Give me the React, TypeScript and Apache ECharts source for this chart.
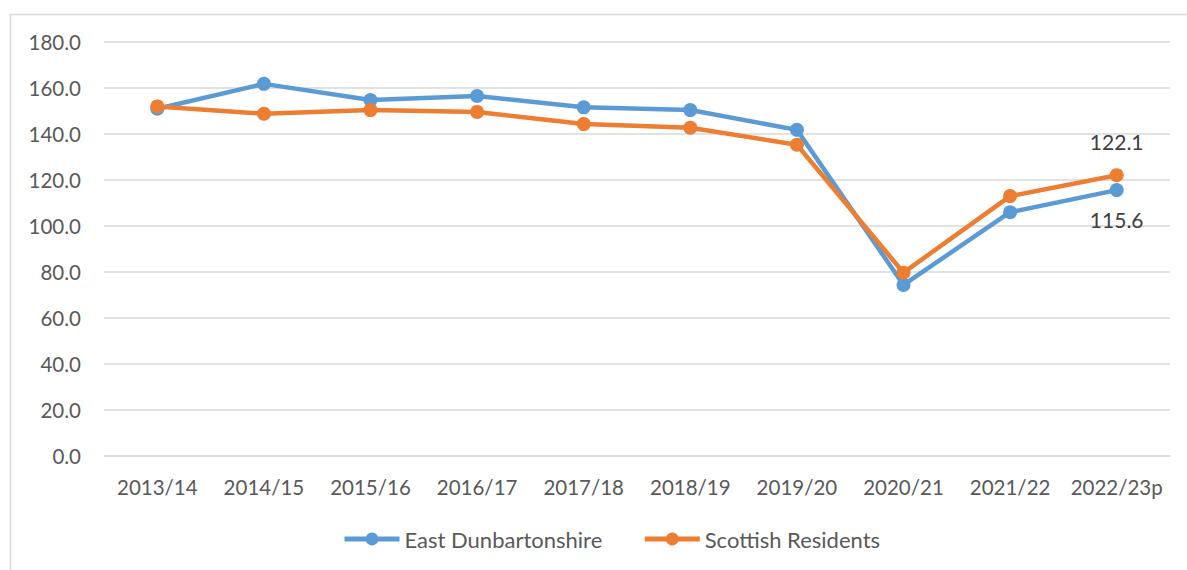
import React, { useEffect, useRef } from "react";
import * as echarts from "echarts";

const categories = ["2013/14", "2014/15", "2015/16", "2016/17", "2017/18", "2018/19", "2019/20", "2020/21", "2021/22", "2022/23p"];
const eastDunbartonshire = [151.0, 161.8, 154.8, 156.5, 151.6, 150.4, 141.8, 74.4, 106.0, 115.6];
const scottishResidents = [152.0, 148.8, 150.4, 149.6, 144.3, 142.7, 135.3, 79.7, 113.0, 122.1];
const yTicks = { min: 0, max: 180, interval: 20 };

const FONT = "Lato, 'Open Sans', sans-serif";

export default function App() {
  const ref = useRef<HTMLDivElement>(null);
  useEffect(() => {
    if (!ref.current) return;
    const chart = echarts.init(ref.current, undefined, { renderer: "svg" });
    const lastIdx = categories.length - 1;
    chart.setOption({
      animation: false,
      backgroundColor: "#ffffff",
      textStyle: { fontFamily: FONT },
      graphic: [
        {
          type: "rect",
          shape: { x: 10.5, y: 14.5, width: 1250, height: 650 },
          style: { fill: "none", stroke: "#d9d9d9", lineWidth: 1.5 },
          silent: true,
          z: -10,
        },
      ],
      grid: { left: 104, right: 17, top: 42, bottom: 114, containLabel: false },
      legend: {
        top: 523,
        left: 337,
        itemWidth: 55,
        itemHeight: 16,
        itemGap: 40,
        lineStyle: { width: 5 },
        textStyle: { color: "#595959", fontSize: 22, fontFamily: FONT },
        data: ["East Dunbartonshire", "Scottish Residents"],
      },
      xAxis: {
        type: "category",
        data: categories,
        boundaryGap: true,
        axisLine: { show: true, lineStyle: { color: "#d9d9d9", width: 1.5 } },
        axisTick: { show: false },
        axisLabel: { color: "#595959", fontSize: 20.5, margin: 20, interval: 0, fontFamily: FONT },
        splitLine: { show: false },
      },
      yAxis: {
        type: "value",
        min: yTicks.min,
        max: yTicks.max,
        interval: yTicks.interval,
        axisLine: { show: false },
        axisTick: { show: false },
        axisLabel: {
          color: "#595959",
          fontSize: 20.5,
          margin: 23,
          fontFamily: FONT,
          formatter: (v: number) => v.toFixed(1),
        },
        splitLine: { show: true, lineStyle: { color: "#d9d9d9", width: 1.5 } },
      },
      series: [
        {
          name: "East Dunbartonshire",
          type: "line",
          data: eastDunbartonshire.map((v, i) =>
            i === lastIdx
              ? {
                  value: v,
                  label: {
                    show: true,
                    position: "bottom",
                    distance: 12,
                    color: "#404040",
                    fontSize: 21,
                    fontFamily: FONT,
                    formatter: (p: any) => Number(p.value).toFixed(1),
                  },
                }
              : v
          ),
          color: "#5B9BD5",
          symbol: "circle",
          symbolSize: 14,
          lineStyle: { width: 4.5, color: "#5B9BD5" },
          itemStyle: { color: "#5B9BD5" },
        },
        {
          name: "Scottish Residents",
          type: "line",
          data: scottishResidents.map((v, i) =>
            i === lastIdx
              ? {
                  value: v,
                  label: {
                    show: true,
                    position: "top",
                    distance: 16,
                    color: "#404040",
                    fontSize: 21,
                    fontFamily: FONT,
                    formatter: (p: any) => Number(p.value).toFixed(1),
                  },
                }
              : v
          ),
          color: "#ED7D31",
          symbol: "circle",
          symbolSize: 14,
          lineStyle: { width: 4.5, color: "#ED7D31" },
          itemStyle: { color: "#ED7D31" },
        },
      ],
    });
    return () => chart.dispose();
  }, []);
  return (
    <div
      ref={ref}
      style={{ position: "absolute", left: 0, top: 0, width: 1187, height: 570 }}
    />
  );
}
